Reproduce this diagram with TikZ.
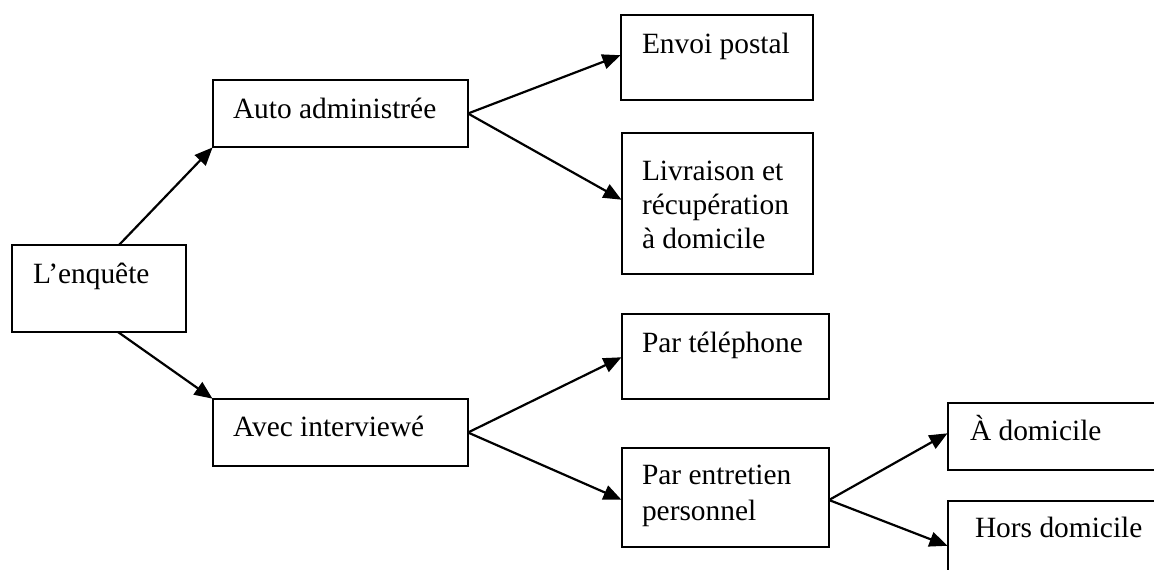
\documentclass[tikz,border=0pt]{standalone}
\usepackage{fontspec}
\setmainfont{Liberation Serif}
\usetikzlibrary{arrows.meta,calc}
\begin{document}
\begin{tikzpicture}[x=0.5pt,y=-0.5pt,
  box/.style={draw, line width=1.3pt, anchor=north west, inner sep=0pt, outer sep=0pt},
  txt/.style={anchor=base west, inner sep=0pt, outer sep=0pt, font=\fontsize{14.7}{17}\selectfont},
  arr/.style={line width=1.1pt, -{Triangle[length=9pt,width=7.5pt]}, shorten >=0.3pt}]
\useasboundingbox (0,0) rectangle (1154,569);
\clip (0,0) rectangle (1154,569);

% boxes
\node[box, minimum width=87pt,   minimum height=43.5pt] (enq)   at (12,245)  {};
\node[box, minimum width=127.5pt, minimum height=33.5pt] (auto)  at (213,80)  {};
\node[box, minimum width=127.5pt, minimum height=33.5pt] (avec)  at (213,399) {};
\node[box, minimum width=96pt,   minimum height=42.5pt] (envoi) at (621,15)  {};
\node[box, minimum width=95.5pt, minimum height=70.5pt] (livr)  at (622,133) {};
\node[box, minimum width=103.5pt, minimum height=42.5pt] (tel)   at (622,314) {};
\node[box, minimum width=103.5pt, minimum height=49.5pt] (ent)   at (622,448) {};
\node[box, minimum width=126pt,  minimum height=33.5pt] (adom)  at (948,403) {};
\node[box, minimum width=126pt,  minimum height=45pt]   (hors)  at (948,501) {};

% labels
\node[txt] (tEnq)   at (33,283)  {L’enquête};
\node[txt] (tAuto)  at (233,118) {Auto administrée};
\node[txt] (tAvec)  at (233,436) {Avec interviewé};
\node[txt] (tEnv)   at (642,53)  {Envoi postal};
\node[txt] (tLiv1)  at (642,180) {Livraison et};
\node[txt] (tLiv2)  at (642,214) {récupération};
\node[txt] (tLiv3)  at (642,248) {à domicile};
\node[txt] (tTel)   at (642,352) {Par téléphone};
\node[txt] (tEnt1)  at (642,484) {Par entretien};
\node[txt] (tEnt2)  at (642,520) {personnel};
\node[txt] (tAdom)  at (970,440) {À domicile};
\node[txt] (tHors)  at (975,537) {Hors domicile};

% connector end points
\coordinate (enqT)  at ($(enq.north west)+(107,0)$);
\coordinate (enqB)  at ($(enq.south west)+(106,0)$);
\coordinate (envIn) at ($(envoi.north west)+(0,40)$);
\coordinate (livIn) at ($(livr.north west)+(0,67)$);
\coordinate (telIn) at ($(tel.north west)+(0,43)$);
\coordinate (entIn) at ($(ent.north west)+(0,52)$);
\coordinate (entOut) at ($(ent.north east)+(0,52)$);
\coordinate (adIn)  at ($(adom.north west)+(0,30)$);
\coordinate (hoIn)  at ($(hors.north west)+(0,45)$);

% connectors
\draw[arr] (enqT) -- (auto.south west);
\draw[arr] (enqB) -- (avec.north west);
\draw[arr] (auto.east) -- (envIn);
\draw[arr] (auto.east) -- (livIn);
\draw[arr] (avec.east) -- (telIn);
\draw[arr] (avec.east) -- (entIn);
\draw[arr] (entOut) -- (adIn);
\draw[arr] (entOut) -- (hoIn);
\end{tikzpicture}
\end{document}
